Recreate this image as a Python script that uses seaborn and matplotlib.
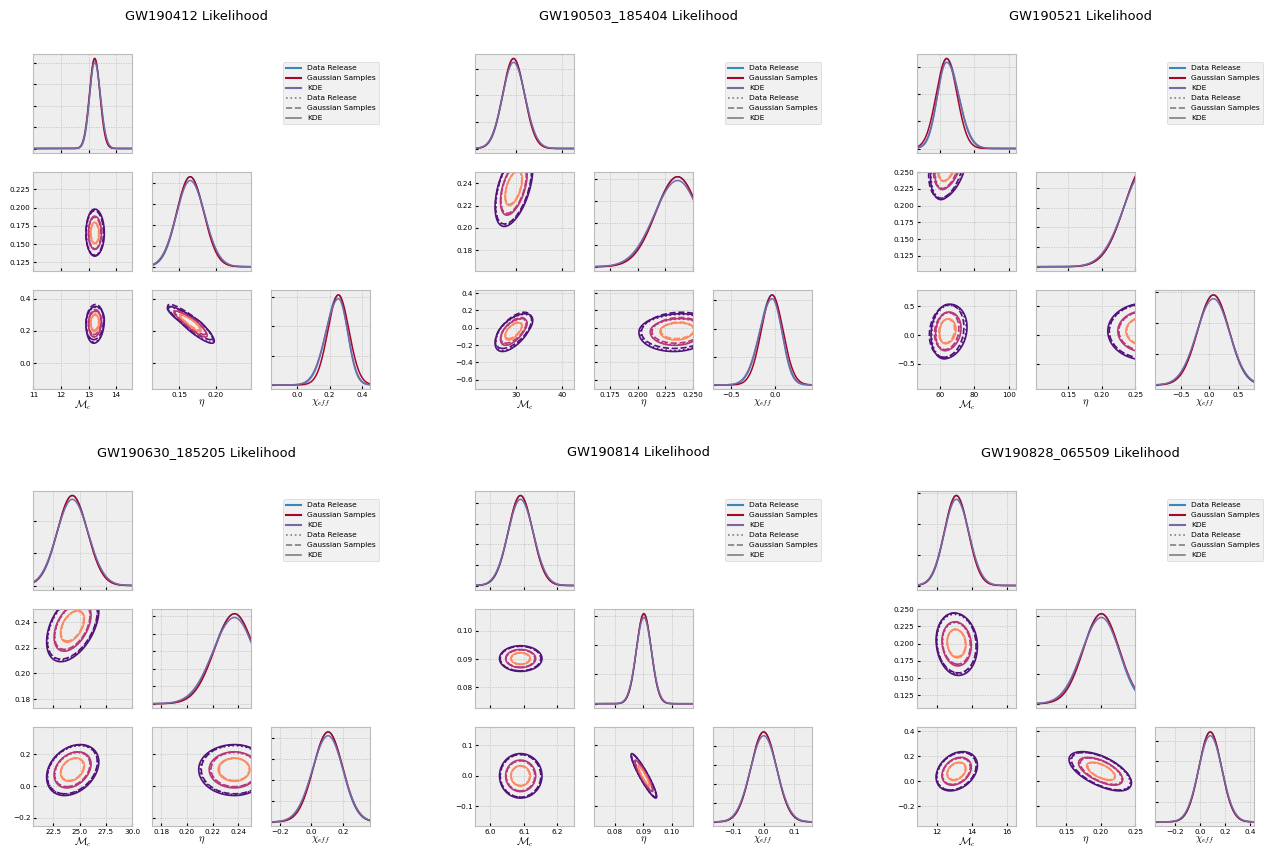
import numpy as np
import matplotlib
matplotlib.use("Agg")
import matplotlib.pyplot as plt
import seaborn as sns
from matplotlib.lines import Line2D

# ---------------- data ----------------
events = ["GW190412", "GW190503_185404", "GW190521",
          "GW190630_185205", "GW190814", "GW190828_065509"]
param_labels = [r"$\mathcal{M}_c$", r"$\eta$", r"$\chi_{eff}$"]

# peak location, left / right width of each marginal
mc_mu = [13.22, 29.4, 64.0, 24.3, 6.09, 13.1]
mc_sl = [0.18, 2.3, 5.2, 1.4, 0.036, 0.67]
mc_sr = [0.20, 2.4, 6.8, 1.45, 0.037, 0.70]
eta_mu = [0.165, 0.236, 0.265, 0.237, 0.0902, 0.201]
eta_sl = [0.018, 0.020, 0.031, 0.016, 0.0026, 0.027]
eta_sr = [0.019, 0.019, 0.031, 0.015, 0.0026, 0.025]
chi_mu = [0.255, -0.03, 0.07, 0.105, 0.0, 0.08]
chi_sl = [0.075, 0.14, 0.28, 0.095, 0.042, 0.09]
chi_sr = [0.055, 0.11, 0.27, 0.09, 0.042, 0.09]
# pair correlations
rho_mc_eta = [0.0, 0.5, 0.35, 0.45, 0.0, -0.1]
rho_mc_chi = [0.1, 0.6, 0.15, 0.3, 0.0, 0.3]
rho_eta_chi = [-0.9, 0.1, 0.0, 0.0, -0.93, -0.6]
# axis ranges
mc_lim = [(11.0, 14.58), (21.1, 42.6), (47.0, 104.4), (20.6, 30.0), (5.955, 6.251), (10.85, 16.56)]
eta_lim = [(0.113, 0.2486), (0.161, 0.25), (0.102, 0.25), (0.173, 0.25), (0.0727, 0.1076), (0.1065, 0.25)]
chi_lim = [(-0.16, 0.45), (-0.71, 0.43), (-0.95, 0.78), (-0.255, 0.37), (-0.166, 0.159), (-0.36, 0.43)]

series_names = ["Data Release", "Gaussian Samples", "KDE"]
series_colors = ["#348ABD", "#A60628", "#7A68A6"]
series_styles = [":", "--", "-"]
contour_fracs = [0.25, 0.5, 0.75]

# ---------------- style ----------------
plt.style.use("bmh")
plt.rcParams.update({
    "font.family": ["DejaVu Sans"],
    "mathtext.fontset": "cm",
    "xtick.direction": "in", "ytick.direction": "in",
    "xtick.labelsize": 5.2, "ytick.labelsize": 5.2,
    "xtick.major.size": 2.5, "ytick.major.size": 2.5,
    "xtick.major.pad": 1.8, "ytick.major.pad": 2.0,
    "axes.labelsize": 7.5,
    "axes.linewidth": 0.8,
    "grid.color": "#c4c4c4",
    "grid.linestyle": (0, (1.5, 1.5)),
    "grid.linewidth": 0.6,
})

W, H, DPI = 1268, 848, 100
fig = plt.figure(figsize=(W / DPI, H / DPI), dpi=DPI)
cmap = plt.get_cmap("magma")
level_colors = [cmap(f) for f in contour_fracs]


def px_axes(x, y, w, h):
    return fig.add_axes([x / W, 1 - (y + h) / H, w / W, h / H])


def zsplit(x, mu, sl, sr):
    return np.where(x < mu, (x - mu) / sl, (x - mu) / sr)


def pdf1(x, mu, sl, sr):
    return 2.0 / (np.sqrt(2 * np.pi) * (sl + sr)) * np.exp(-0.5 * zsplit(x, mu, sl, sr) ** 2)


def series_widths(sl, sr, k):
    if k == 0:      # data release
        return sl, sr
    if k == 1:      # gaussian approximation
        s = 0.5 * (sl + sr)
        return s, s
    f = np.sqrt(1 + 0.3 ** 2)   # kde smoothing
    return sl * f, sr * f


block_x0 = [33.3, 475.3, 917.3]
block_y0 = [54.0, 491.0]
col_step, row_step, size = 118.9, 118.2, 99.0

for e, name in enumerate(events):
    bx = block_x0[e % 3]
    by = block_y0[e // 3]
    mus = [mc_mu[e], eta_mu[e], chi_mu[e]]
    sls = [mc_sl[e], eta_sl[e], chi_sl[e]]
    srs = [mc_sr[e], eta_sr[e], chi_sr[e]]
    lims = [mc_lim[e], eta_lim[e], chi_lim[e]]
    rho = {(1, 0): rho_mc_eta[e], (2, 0): rho_mc_chi[e], (2, 1): rho_eta_chi[e]}

    for r in range(3):
        for c in range(r + 1):
            ax = px_axes(bx + c * col_step, by + r * row_step, size, size)
            ax.set_xlim(*lims[c])
            if r == c:
                x = np.linspace(lims[c][0], lims[c][1], 400)
                for k in range(3):
                    a, b = series_widths(sls[c], srs[c], k)
                    sns.lineplot(x=x, y=pdf1(x, mus[c], a, b), ax=ax,
                                 color=series_colors[k], lw=1.1, legend=False)
                ax.set_xlim(*lims[c])
                ax.tick_params(labelleft=False)
            else:
                xs = np.linspace(lims[c][0], lims[c][1], 220)
                ys = np.linspace(lims[r][0], lims[r][1], 220)
                X, Y = np.meshgrid(xs, ys)
                p = rho[(r, c)]
                for k in range(3):
                    ac, bc = series_widths(sls[c], srs[c], k)
                    ar, br = series_widths(sls[r], srs[r], k)
                    zx = zsplit(X, mus[c], ac, bc)
                    zy = zsplit(Y, mus[r], ar, br)
                    Z = np.exp(-0.5 * (zx ** 2 - 2 * p * zx * zy + zy ** 2) / (1 - p ** 2))
                    zmax = Z.max()
                    ax.contour(X, Y, Z, levels=[f * zmax for f in contour_fracs],
                               colors=level_colors, linestyles=series_styles[k],
                               linewidths=1.2)
                ax.set_ylim(*lims[r])
                if c > 0:
                    ax.tick_params(labelleft=False)
            if r < 2:
                ax.tick_params(labelbottom=False)
            else:
                ax.set_xlabel(param_labels[c], labelpad=0.0)
            ax.set_ylabel("")
            for s in ax.spines.values():
                s.set_edgecolor("#bcbcbc")

    fig.text((bx + 163) / W, 1 - (16 if e < 3 else 453) / H, f"{name} Likelihood",
             ha="center", va="center", fontsize=9.4)

    handles = [Line2D([0], [0], color=col, lw=1.5) for col in series_colors]
    handles += [Line2D([0], [0], color="#808080", lw=1.2, ls=ls) for ls in series_styles]
    fig.legend(handles, series_names * 2, loc="upper left",
               bbox_to_anchor=((bx + 250) / W, 1 - (by + 8) / H),
               fontsize=5.4, borderaxespad=0.0)

fig.savefig("out.png", dpi=DPI)
